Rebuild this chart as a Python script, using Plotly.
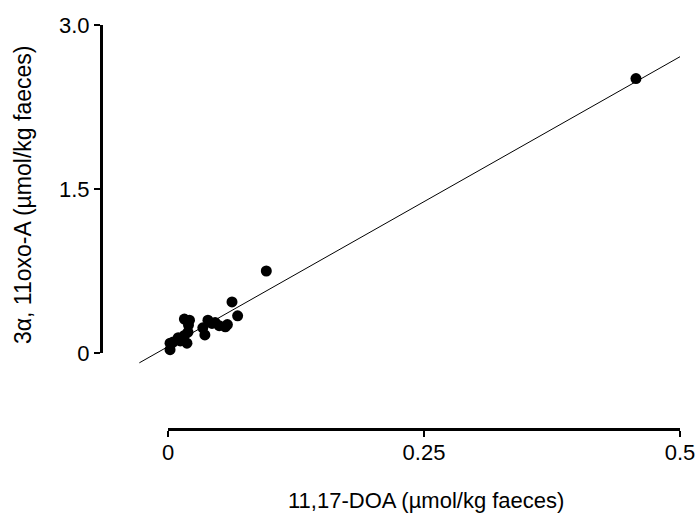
import plotly.graph_objects as go

# ---- data ----
doa = [0.002, 0.002, 0.005, 0.010, 0.012, 0.016, 0.0185, 0.0195, 0.016, 0.021, 0.020,
       0.034, 0.036, 0.039, 0.043, 0.046, 0.050, 0.056, 0.058, 0.0625, 0.068, 0.096, 0.457]
oxo = [0.03, 0.09, 0.10, 0.14, 0.11, 0.16, 0.09, 0.19, 0.31, 0.30, 0.256,
       0.23, 0.165, 0.30, 0.27, 0.28, 0.25, 0.24, 0.26, 0.467, 0.34, 0.75, 2.51]
fit_x = [-0.028, 0.5]
fit_y = [-0.09, 2.71]
x_tickvals = [0, 0.25, 0.5]
x_ticktext = ["0", "0.25", "0.5"]
y_tickvals = [0, 1.5, 3.0]
y_ticktext = ["0", "1.5", "3.0"]
x_title = "11,17-DOA (µmol/kg faeces)"
y_title = "3α, 11oxo-A (µmol/kg faeces)"

# ---- layout geometry (pixels) ----
W, H = 696, 514
def fx(px): return px / W
def fy(py): return 1 - py / H

X0, X1 = 168, 680      # pixel of x=0 and x=0.5
Y0, Y3 = 353, 25       # pixel of y=0 and y=3
xs = (X1 - X0) / 0.5
ys = (Y0 - Y3) / 3.0
dom_x = [101, 692]
dom_y = [18, 432]      # top, bottom
xr = [(dom_x[0] - X0) / xs, (dom_x[1] - X0) / xs]
yr = [(Y0 - dom_y[1]) / ys, (Y0 - dom_y[0]) / ys]

FONT = "Liberation Sans, Arial, sans-serif"

fig = go.Figure()
fig.add_trace(go.Scatter(x=fit_x, y=fit_y, mode="lines",
                         line=dict(color="black", width=1), hoverinfo="skip", showlegend=False))
fig.add_trace(go.Scatter(x=doa, y=oxo, mode="markers",
                         marker=dict(color="black", size=11), showlegend=False))
# invisible trace to activate the display axes
fig.add_trace(go.Scatter(x=[None], y=[None], xaxis="x2", yaxis="y2",
                         mode="markers", hoverinfo="skip", showlegend=False))

hidden = dict(visible=False, showgrid=False, zeroline=False, fixedrange=True)
fig.update_layout(
    width=W, height=H, autosize=False,
    margin=dict(l=0, r=0, t=0, b=0),
    paper_bgcolor="white", plot_bgcolor="rgba(0,0,0,0)",
    font=dict(family=FONT, color="black", size=22),
    xaxis=dict(domain=[fx(dom_x[0]), fx(dom_x[1])], range=xr, **hidden),
    yaxis=dict(domain=[fy(dom_y[1]), fy(dom_y[0])], range=yr, **hidden),
    xaxis2=dict(domain=[fx(X0), fx(X1)], range=[0, 0.5], anchor="free", position=fy(429),
                showline=True, linewidth=3, linecolor="black", showgrid=False, zeroline=False,
                ticks="outside", ticklen=6, tickwidth=1.5, tickcolor="black",
                tickvals=x_tickvals, ticktext=x_ticktext, ticklabelstandoff=-3,
                tickfont=dict(family=FONT, size=22, color="black"), automargin=False),
    yaxis2=dict(domain=[fy(Y0), fy(Y3)], range=[0, 3], anchor="free", position=fx(101),
                showline=True, linewidth=3, linecolor="black", showgrid=False, zeroline=False,
                ticks="outside", ticklen=6, tickwidth=1.5, tickcolor="black",
                tickvals=y_tickvals, ticktext=y_ticktext,
                tickfont=dict(family=FONT, size=22, color="black"), automargin=False),
    annotations=[
        dict(text=x_title, x=fx(426), y=fy(500), xref="paper", yref="paper",
             showarrow=False, xanchor="center", yanchor="middle",
             font=dict(family=FONT, size=22, color="black")),
        dict(text=y_title, x=fx(23), y=fy(195), xref="paper", yref="paper",
             showarrow=False, xanchor="center", yanchor="middle", textangle=-90,
             font=dict(family=FONT, size=23, color="black")),
    ],
)

fig.write_html("out.html", config={"displayModeBar": False},
               post_script="document.body.style.margin='0';")
